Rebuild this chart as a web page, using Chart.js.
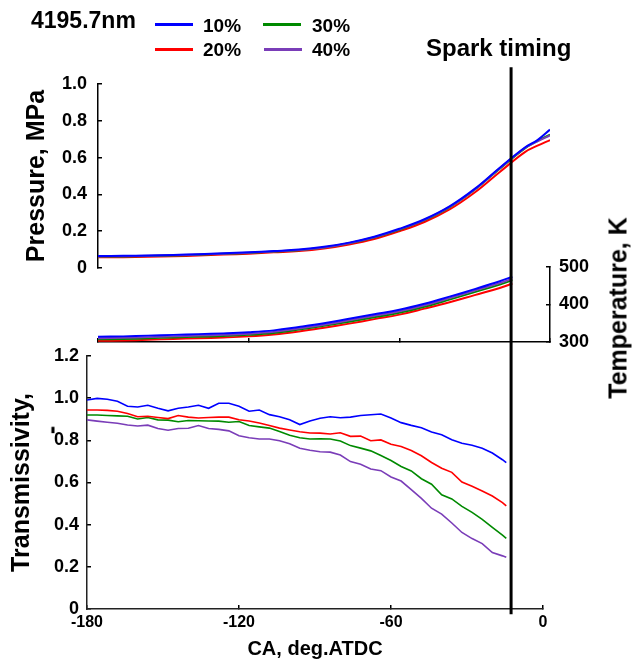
<!DOCTYPE html>
<html lang="en">
<head>
    <title>Transmissivity and spark timing</title>
    <style>
        body { margin: 0; width: 632px; height: 659px; position: relative; overflow: hidden; background: #fff;
               font-family: "Liberation Sans", Arial, sans-serif; font-weight: bold; color: #000; }
        canvas { position: absolute; left: 0; top: 0; }
        .txt { position: absolute; white-space: nowrap; line-height: 1; }
        .swatch { position: absolute; height: 3px; width: 38px; }
        .rot { transform: translate(-50%, -50%) rotate(-90deg); }
    </style>
</head>

<body>
    <!--    Charts: pressure, temperature, transmissivity (shared page-size canvases)  -->
    <canvas id="pressChart" width="632" height="659"></canvas>
    <canvas id="tempChart" width="632" height="659"></canvas>
    <canvas id="transChart" width="632" height="659"></canvas>

    <!--    Legend   -->
    <div class="txt" style="left:31px; top:9px; font-size:23px;">4195.7nm</div>
    <div class="swatch" style="left:155px; top:23px; background:#0000ff;"></div>
    <div class="txt" style="left:203px; top:16px; font-size:19px;">10%</div>
    <div class="swatch" style="left:155px; top:48px; background:#ff0000;"></div>
    <div class="txt" style="left:203px; top:40px; font-size:19px;">20%</div>
    <div class="swatch" style="left:263px; top:23px; background:#008a00;"></div>
    <div class="txt" style="left:312px; top:16px; font-size:19px;">30%</div>
    <div class="swatch" style="left:264px; top:48px; background:#7a3db8;"></div>
    <div class="txt" style="left:312px; top:40px; font-size:19px;">40%</div>

    <div class="txt" style="left:426px; top:36px; font-size:24px;">Spark timing</div>
    <div class="txt rot" style="left:618px; top:308px; font-size:25px;">Temperature, K</div>
    <div class="txt rot" style="left:51px; top:430px; font-size:25px;">-</div>

    <script src="https://cdn.jsdelivr.net/npm/chart.js"></script>
    <script>
        // ---- data ----
        const caPress = [-180, -170, -160, -150, -140, -130, -120, -110, -100, -90, -80, -70, -60, -50, -40, -30, -20, -10, -5, 0];
        const press10 = [0.065, 0.066, 0.068, 0.071, 0.075, 0.080, 0.085, 0.092, 0.100, 0.115, 0.138, 0.170, 0.213, 0.265, 0.335, 0.430, 0.545, 0.655, 0.695, 0.752];
        const press20 = [0.058, 0.059, 0.061, 0.064, 0.068, 0.073, 0.078, 0.085, 0.092, 0.106, 0.128, 0.158, 0.200, 0.250, 0.318, 0.410, 0.522, 0.630, 0.665, 0.695];
        const press30 = [0.062, 0.063, 0.065, 0.068, 0.072, 0.077, 0.082, 0.089, 0.097, 0.111, 0.134, 0.166, 0.208, 0.260, 0.330, 0.425, 0.540, 0.650, 0.690, 0.725];
        const press40 = [0.063, 0.064, 0.066, 0.069, 0.073, 0.078, 0.083, 0.090, 0.098, 0.112, 0.135, 0.167, 0.210, 0.262, 0.332, 0.427, 0.542, 0.652, 0.688, 0.720];

        const caTemp = [-180, -170, -160, -150, -140, -130, -120, -110, -100, -90, -80, -70, -60, -50, -40, -30, -20, -15];
        const temp10 = [314, 315, 317, 319, 321, 323, 326, 331, 340, 350, 362, 374, 386, 402, 421, 441, 462, 474];
        const temp20 = [303, 304, 306, 308, 310, 312, 315, 320, 328, 338, 349, 361, 373, 389, 406, 425, 444, 456];
        const temp30 = [307, 308, 310, 312, 314, 316, 319, 324, 333, 343, 354, 366, 378, 394, 413, 433, 453, 465];
        const temp40 = [310, 311, 313, 315, 317, 319, 322, 327, 336, 346, 358, 370, 382, 398, 417, 437, 457, 469];

        const caTrans = [-180, -176, -172, -168, -164, -160, -156, -152, -148, -144, -140, -136, -132, -128, -124, -120,
            -116, -112, -108, -104, -100, -96, -92, -88, -84, -80, -76, -72, -68, -64, -60, -56, -52, -48, -44, -40,
            -36, -32, -28, -24, -20, -16, -14.5];
        const trans10 = [0.991, 0.999, 0.995, 0.985, 0.962, 0.958, 0.966, 0.952, 0.940, 0.952, 0.958, 0.966, 0.952, 0.976, 0.976, 0.962,
            0.938, 0.944, 0.922, 0.912, 0.898, 0.875, 0.892, 0.905, 0.912, 0.907, 0.910, 0.918, 0.921, 0.925, 0.906, 0.884,
            0.871, 0.860, 0.840, 0.826, 0.803, 0.786, 0.777, 0.762, 0.740, 0.708, 0.694];
        const trans20 = [0.944, 0.944, 0.942, 0.938, 0.927, 0.912, 0.914, 0.908, 0.903, 0.918, 0.910, 0.906, 0.908, 0.910, 0.910, 0.898,
            0.892, 0.882, 0.870, 0.858, 0.849, 0.841, 0.835, 0.834, 0.830, 0.836, 0.819, 0.820, 0.798, 0.802, 0.781, 0.771,
            0.752, 0.727, 0.695, 0.668, 0.648, 0.602, 0.582, 0.560, 0.536, 0.505, 0.489];
        const trans30 = [0.920, 0.920, 0.918, 0.916, 0.914, 0.901, 0.908, 0.897, 0.896, 0.888, 0.894, 0.893, 0.892, 0.891, 0.886, 0.889,
            0.870, 0.864, 0.858, 0.842, 0.824, 0.812, 0.806, 0.807, 0.806, 0.797, 0.775, 0.763, 0.750, 0.728, 0.704, 0.676,
            0.655, 0.618, 0.592, 0.542, 0.522, 0.487, 0.458, 0.425, 0.387, 0.350, 0.335];
        const trans40 = [0.897, 0.891, 0.886, 0.881, 0.873, 0.868, 0.872, 0.856, 0.848, 0.856, 0.857, 0.870, 0.856, 0.852, 0.845, 0.822,
            0.812, 0.806, 0.806, 0.798, 0.784, 0.762, 0.753, 0.746, 0.744, 0.730, 0.699, 0.687, 0.664, 0.656, 0.626, 0.607,
            0.566, 0.525, 0.478, 0.450, 0.408, 0.363, 0.334, 0.310, 0.268, 0.252, 0.245];

        const sparkCA = -12.6;
        const sparkSpan = [-0.025, 2.57];   // in transmissivity units, line runs over all panels

        const seriesColors = ['#0000ff', '#7a3db8', '#008a00', '#ff0000'];   // 10%, 40%, 30%, 20% (blue drawn on top)

        // ---- helpers ----
        const xTickFont = {family: '"Liberation Sans", Arial, sans-serif', size: 16, weight: 'bold'};
        const yTickFont = {family: '"Liberation Sans", Arial, sans-serif', size: 18, weight: 'bold'};
        const titleFont = {family: '"Liberation Sans", Arial, sans-serif', size: 25, weight: 'bold'};

        function pts(xs, ys) {
            return xs.map((x, i) => ({x: x, y: ys[i]}));
        }

        function lineSet(xs, ys, color, width, smooth) {
            return {
                data: pts(xs, ys),
                borderColor: color,
                borderWidth: width,
                pointRadius: 0,
                fill: false,
                tension: smooth ? 0.4 : 0
            };
        }

        function axisGrid() {
            return {display: true, drawOnChartArea: false, drawTicks: true, tickLength: -4, color: '#000', lineWidth: 1.5};
        }

        const baseOpts = {
            responsive: false,
            animation: false,
            devicePixelRatio: 1,
            events: [],
            plugins: {legend: {display: false}, tooltip: {enabled: false}}
        };

        function fmt(v) {
            return v === 0 ? '0' : v.toFixed(1);
        }

        // ---- pressure ----
        new Chart(document.getElementById('pressChart'), {
            type: 'line',
            data: {
                datasets: [
                    lineSet(caPress, press10, seriesColors[0], 2, true),
                    lineSet(caPress, press40, seriesColors[1], 2, true),
                    lineSet(caPress, press30, seriesColors[2], 2, true),
                    lineSet(caPress, press20, seriesColors[3], 2, true)
                ]
            },
            options: Object.assign({}, baseOpts, {
                layout: {padding: {left: 0, top: 84, right: 82, bottom: 391}},
                scales: {
                    x: {type: 'linear', min: -180, max: 0, display: false},
                    y: {
                        min: 0, max: 1.0,
                        afterFit: (s) => { s.width = 98; },
                        border: {display: true, color: '#000', width: 1.5},
                        grid: axisGrid(),
                        ticks: {stepSize: 0.2, padding: 15, color: '#000', font: yTickFont, callback: fmt},
                        title: {display: true, text: 'Pressure, MPa', color: '#000', font: titleFont, padding: {top: 22, bottom: 0}}
                    }
                }
            })
        });

        // ---- temperature ----
        new Chart(document.getElementById('tempChart'), {
            type: 'line',
            data: {
                datasets: [
                    lineSet(caTemp, temp10, seriesColors[0], 2, true),
                    lineSet(caTemp, temp40, seriesColors[1], 2, true),
                    lineSet(caTemp, temp30, seriesColors[2], 2, true),
                    lineSet(caTemp, temp20, seriesColors[3], 2, true)
                ]
            },
            options: Object.assign({}, baseOpts, {
                layout: {padding: {left: 98, top: 267, right: 42, bottom: 317}},
                scales: {
                    x: {
                        type: 'linear', min: -180, max: 0,
                        afterFit: (s) => { s.height = 0; },
                        border: {display: true, color: '#000', width: 1.5},
                        grid: axisGrid(),
                        ticks: {stepSize: 60, display: false}
                    },
                    y: {
                        position: 'right', min: 300, max: 500,
                        afterFit: (s) => { s.width = 40; },
                        border: {display: true, color: '#000', width: 1.5},
                        grid: axisGrid(),
                        ticks: {stepSize: 100, padding: 13, color: '#000', font: yTickFont}
                    }
                }
            })
        });

        // ---- transmissivity (+ spark timing line) ----
        const sparkSet = {
            data: [{x: sparkCA, y: sparkSpan[0]}, {x: sparkCA, y: sparkSpan[1]}],
            borderColor: '#000',
            borderWidth: 3,
            pointRadius: 0,
            clip: false
        };

        new Chart(document.getElementById('transChart'), {
            type: 'line',
            data: {
                datasets: [
                    sparkSet,
                    lineSet(caTrans, trans10, seriesColors[0], 1.6, false),
                    lineSet(caTrans, trans20, seriesColors[3], 1.6, false),
                    lineSet(caTrans, trans30, seriesColors[2], 1.6, false),
                    lineSet(caTrans, trans40, seriesColors[1], 1.6, false)
                ]
            },
            options: Object.assign({}, baseOpts, {
                layout: {padding: {left: 0, top: 356, right: 89, bottom: 0}},
                scales: {
                    x: {
                        type: 'linear', min: -180, max: 0,
                        afterFit: (s) => { s.height = 50; },
                        border: {display: true, color: '#222', width: 1.5},
                        grid: axisGrid(),
                        ticks: {stepSize: 60, padding: 8, color: '#000', font: xTickFont, maxRotation: 0},
                        title: {display: true, text: 'CA, deg.ATDC', color: '#000',
                            font: {family: '"Liberation Sans", Arial, sans-serif', size: 20, weight: 'bold', lineHeight: 1},
                            padding: {top: 0, bottom: 0}}
                    },
                    y: {
                        min: 0, max: 1.2,
                        afterFit: (s) => { s.width = 87; },
                        border: {display: true, color: '#222', width: 1.5},
                        grid: axisGrid(),
                        ticks: {stepSize: 0.2, padding: 12, color: '#000', font: yTickFont, callback: fmt},
                        title: {display: true, text: 'Transmissivity,', color: '#000', font: titleFont, padding: {top: 7, bottom: 0}}
                    }
                }
            })
        });
    </script>
</body>
</html>
